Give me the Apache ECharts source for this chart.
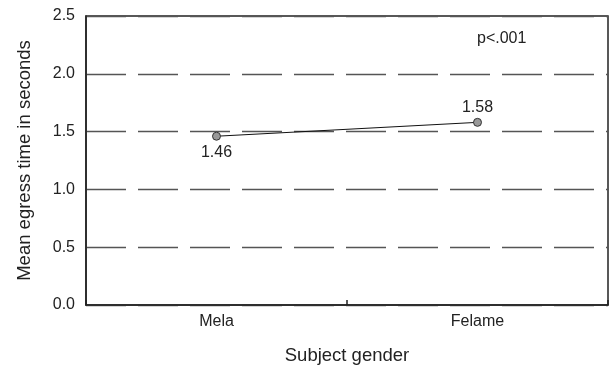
<!DOCTYPE html>
<html>
<head>
<meta charset="utf-8">
<script src="https://cdn.jsdelivr.net/npm/echarts@6/dist/echarts.min.js"></script>
<style>html,body{margin:0;padding:0;background:#fff}#c{width:612px;height:369px}</style>
</head>
<body>
<div id="c"></div>
<script>
const categories = ['Mela', 'Felame'];
const meanEgress = [1.46, 1.58];
const labelPositions = ['bottom', 'top'];
const yTicks = [0, 0.5, 1.0, 1.5, 2.0, 2.5];
const annotation = 'p<.001';

const chart = echarts.init(document.getElementById('c'), null, {renderer: 'canvas'});
const font = '"Liberation Sans", Arial, sans-serif';
chart.setOption({
  animation: false,
  backgroundColor: '#fff',
  grid: {left: 86, right: 4, top: 16, bottom: 64, show: true, borderColor: '#222', borderWidth: 1.5,
    containLabel: false, outerBoundsMode: 'none'},
  xAxis: {
    type: 'category',
    data: categories,
    boundaryGap: true,
    name: 'Subject gender',
    nameLocation: 'middle',
    nameGap: 41,
    nameTextStyle: {fontFamily: font, fontSize: 18.5, color: '#222'},
    axisLine: {lineStyle: {color: '#222', width: 1.5}},
    axisTick: {show: true, inside: true, length: 5, lineStyle: {color: '#222', width: 1.5}},
    axisLabel: {fontFamily: font, fontSize: 16, color: '#222', margin: 9}
  },
  yAxis: {
    type: 'value',
    min: yTicks[0],
    max: yTicks[yTicks.length - 1],
    interval: 0.5,
    name: 'Mean egress time in seconds',
    nameLocation: 'middle',
    nameGap: 52,
    nameTextStyle: {fontFamily: font, fontSize: 18.5, color: '#222'},
    axisLine: {show: true, lineStyle: {color: '#222', width: 1.5}},
    axisTick: {show: false},
    axisLabel: {fontFamily: font, fontSize: 16, color: '#222', margin: 11,
      formatter: v => v.toFixed(1)},
    splitLine: {show: true, lineStyle: {color: '#555', width: 1.3, type: [40, 12]}}
  },
  series: [{
    type: 'line',
    data: meanEgress.map((v, i) => ({
      value: v,
      label: {show: true, position: labelPositions[i], distance: i === 0 ? 4 : 2,
        formatter: p => p.value.toFixed(2)}
    })),
    symbol: 'circle',
    symbolSize: 8,
    itemStyle: {color: '#999', borderColor: '#333', borderWidth: 1},
    lineStyle: {color: '#111', width: 1},
    label: {fontFamily: font, fontSize: 16, color: '#222'}
  }],
  graphic: [{
    type: 'text',
    left: 477,
    top: 31,
    style: {text: annotation, font: '16px "Liberation Sans", Arial, sans-serif', fill: '#222'}
  }]
});
</script>
</body>
</html>
